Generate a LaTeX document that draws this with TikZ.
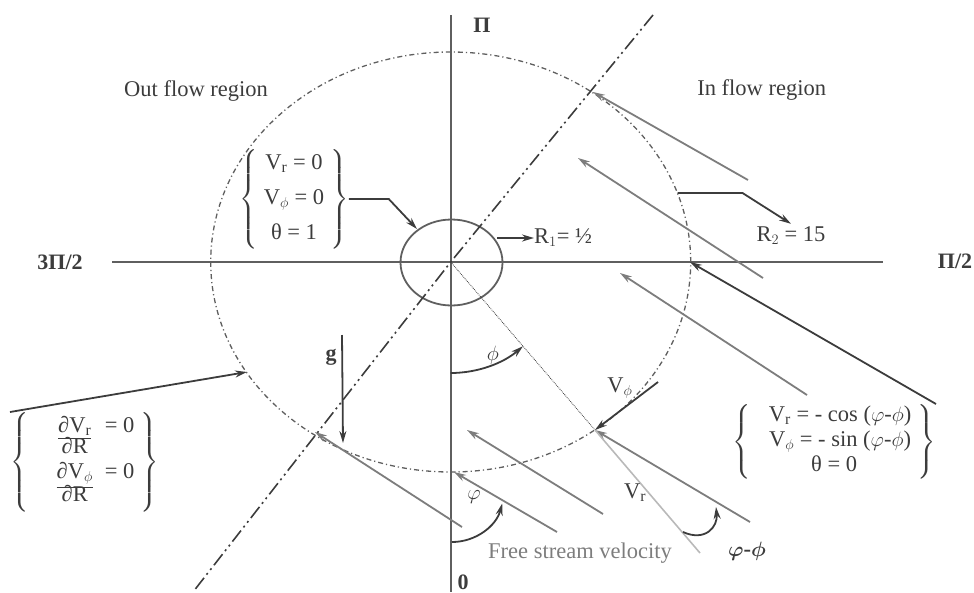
\documentclass[tikz,border=0pt]{standalone}
\usepackage{amsmath}
\usepackage{fontspec}
\setmainfont{Liberation Serif}
\usetikzlibrary{arrows.meta, calc}
\definecolor{AxisGray}{RGB}{95,95,95}
\definecolor{FlowGray}{RGB}{125,125,125}
\definecolor{InkGray}{RGB}{60,60,60}
\definecolor{PaleGray}{RGB}{185,185,185}

\begin{document}
\begin{tikzpicture}[x=1pt, y=-1pt,
    axisline/.style={draw=AxisGray, line width=1.4pt},
    flow/.style={draw=FlowGray, line width=1.8pt, -{Stealth[length=12pt,width=7pt]}},
    darkflow/.style={flow, draw=InkGray},
    lbl/.style={text=InkGray, inner sep=0pt, font=\fontsize{22.5}{25}\selectfont},
    boldlbl/.style={lbl, font=\fontsize{22}{25}\selectfont\bfseries}]
  \useasboundingbox (0,0) rectangle (974,592);

  \coordinate (O) at (450.7,262);
  \coordinate (P) at (595,430);
  \coordinate (Q) at (690,262);
  \coordinate (E1) at (247,372);
  \coordinate (R2pt) at (677.5,193);
  \coordinate (R1pt) at (497,238);
  \coordinate (wallpt) at (417,229);
  \coordinate (diagtop) at (653,15);
  \coordinate (diagbot) at (193,592);

  \draw[axisline] (451,15) -- (451,592);
  \draw[axisline] (112,262) -- (883,262);
  \draw[draw=AxisGray, line width=1.3pt, dash pattern=on 5pt off 3pt on 1.2pt off 3pt]
    (O) ellipse [x radius=240pt, y radius=210pt];
  \draw[draw=AxisGray, line width=1.8pt] (451.5,262.5) ellipse [x radius=51pt, y radius=43pt];
  \draw[draw=InkGray, line width=1.6pt, dash pattern=on 14pt off 4pt on 2pt off 4pt on 2pt off 4pt]
    (diagtop) -- (O) -- (diagbot);
  \draw[draw=InkGray, densely dotted, line width=0.8pt] (O) -- (P);

  \node[boldlbl] (piN) at (482,25) {Π};
  \node[boldlbl] (piW) at (60,262) {3Π/2};
  \node[boldlbl] (piE) at (955,261) {Π/2};
  \node[boldlbl, anchor=south] (piS) at (463,590) {0};
  \node[lbl] (outreg) at (196,91) {Out flow region};
  \node[lbl] (inreg) at (761.7,90) {In flow region};

  \foreach \sx/\sy/\ex/\ey in {748/180/593/92, 763/278/578/158, 807/395/620/273,
      750/522/595/430, 603/514/467/430, 557/532/454/472, 462/527/315/432}
    \draw[flow] (\sx,\sy) -- (\ex,\ey);

  \coordinate (Vphipt) at (658,382);
  \coordinate (Vrpt) at (700,553);
  \draw[draw=PaleGray, line width=1.6pt] (Vrpt) -- (P);
  \draw[darkflow] (Vphipt) -- (P);
  \node[lbl] (vphilbl) at (620,388) {V$_\phi$};
  \node[lbl] (vrlbl) at (635,493) {V$_\mathrm{r}$};

  \draw[darkflow] (O) ++(90:111) arc[start angle=90, end angle=49.4, radius=111];
  \node[lbl] (philbl) at (493,355) {$\phi$};
  \draw[darkflow] (452,490) ++(90:52) arc[start angle=90, end angle=15, radius=52];
  \node[lbl] (varphilbl) at (474,497) {$\varphi$};
  \draw[darkflow] (683,532) .. controls (705,542) and (718,527) .. (716,507);
  \node[lbl] (difflbl) at (747,551) {$\boldsymbol{\varphi}$\textbf{-}$\boldsymbol{\phi}$};
  \node[lbl, text=FlowGray] (freelbl) at (580,553) {Free stream velocity};

  \coordinate (gtop) at (342,335);
  \coordinate (gbot) at (343,443);
  \draw[darkflow] (gtop) -- (gbot);
  \node[boldlbl] (glbl) at (331,357) {g};

  \node[lbl, anchor=west] (R1lbl) at (534,238) {R$_1$= ½};
  \draw[darkflow] (R1pt) -- (R1lbl.west);
  \node[lbl, inner sep=3pt] (R2lbl) at (791,236) {R$_2$ = 15};
  \draw[darkflow] (R2pt) -- ++(65,0) -- (R2lbl.north);

  \node[lbl] (wallbc) at (294,199)
    {$\left\{\begin{tabular}{c}V$_\mathrm{r}$ = 0\\[10pt]V$_\phi$ = 0\\[10pt]θ = 1\end{tabular}\right\}$};
  \draw[darkflow] (wallbc.east) -- ++(40,0) -- (wallpt);

  \node[lbl, anchor=north east] (inflowbc) at (936,404)
    {$\left\{\begin{tabular}{c}\hspace{12pt}V$_\mathrm{r}$ = - cos ($\varphi$-$\phi$)\\\hspace{12pt}V$_\phi$ = - sin ($\varphi$-$\phi$)\\θ = 0\end{tabular}\right\}$};
  \draw[darkflow] (inflowbc.north east) -- (Q);

  \node[lbl, anchor=north west] (outflowbc) at (10,412)
    {$\left\{\begin{tabular}{cl}\hspace{22pt}\underline{∂V$_\mathrm{r}$} & = 0\\[-4pt]\hspace{22pt}∂R & \\\hspace{22pt}\underline{∂V$_\phi$} & = 0\\[-4pt]\hspace{22pt}∂R & \end{tabular}\right\}$};
  \draw[darkflow] (outflowbc.north west) -- (E1);
\end{tikzpicture}
\end{document}
